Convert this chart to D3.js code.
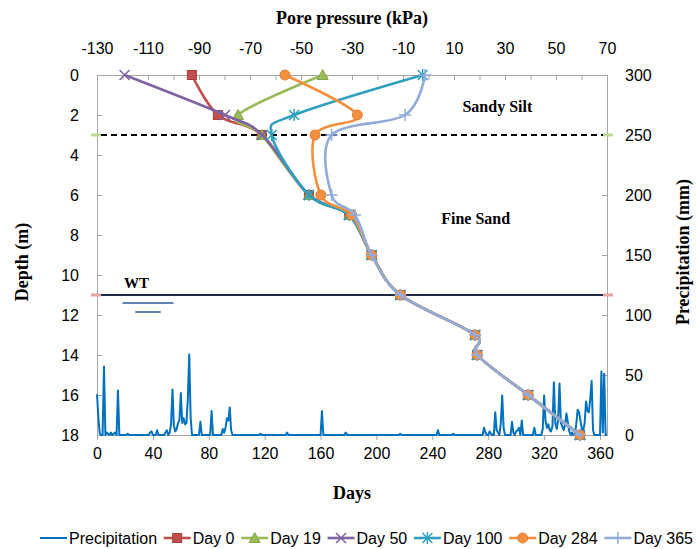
<!DOCTYPE html>
<html>
<head>
<meta charset="utf-8">
<script src="https://cdn.jsdelivr.net/npm/d3@7"></script>
<style>
  body { margin: 0; background: #fff; }
  svg { display: block; }
</style>
</head>
<body>
<svg id="chart" width="696" height="549"></svg>
<script>
// ---- Pore pressure profiles (kPa) at each measured depth (m) ----
const depths = [0, 2, 3, 6, 7, 9, 11, 13, 14, 16, 18];
const day0   = [-92.8, -82.6, -65.4, -46.9, -31.1, -22.3, -11, 18.3, 19.1, 39.1, 59.4];
const day19  = [-41.5, -74.7, -65.4, -46.9, -31.1, -22.3, -11, 18.3, 19.1, 39.1, 59.4];
const day50  = [-119.2, -79.8, -65.2, -46.9, -31.1, -22.3, -11, 18.3, 19.1, 39.1, 59.4];
const day100 = [-2.3, -52.7, -61.5, -46.9, -31.1, -22.3, -11, 18.3, 19.1, 39.1, 59.4];
const day284 = [-56.3, -27.9, -44.5, -42.2, -30.1, -22.3, -11, 18.3, 19.1, 39.1, 59.4];
const day365 = [-1.4, -9.2, -38.0, -38.0, -28.8, -22.3, -11, 18.3, 19.1, 39.1, 59.4];
const seriesNames = ["Day 0", "Day 19", "Day 50", "Day 100", "Day 284", "Day 365"];

// ---- Daily precipitation (mm): rain days; every other day had none ----
const rainDays = [0, 1, 2, 5, 7, 8, 10, 12, 13, 15, 22, 38, 39, 43, 49, 50,
  52, 53, 54, 55, 56, 57, 58, 59, 60, 61, 62, 63, 64, 65, 66, 67,
  74, 82, 90, 91, 92, 93, 94, 95, 96, 117, 136, 161, 178, 217, 244, 255,
  277, 278, 281, 282, 285, 286, 287, 289, 290, 291,
  297, 298, 300, 301, 302, 304, 313,
  319, 320, 321, 322, 323, 324, 325, 326, 327, 328, 329, 330, 331, 332, 333, 334, 335, 336, 337, 338, 340,
  343, 344, 345, 346, 347, 348, 349, 350, 351, 352, 353, 354, 355,
  361, 362, 363];
const rainMm = [34, 14, 1, 57, 2, 1, 2, 1, 2, 37, 1, 2, 3, 4, 2, 4,
  2, 9, 38, 8, 3, 5, 10, 12, 35, 10, 14, 9, 10, 30, 67, 15,
  11, 20, 5, 2, 6, 14, 12, 23, 4, 1, 2, 20, 2, 1, 4, 1,
  6, 2, 3, 1, 19, 4, 2, 10, 33, 6,
  11, 2, 3, 4, 6, 12, 6,
  5, 33, 12, 6, 9, 4, 3, 8, 44, 10, 5, 12, 43, 10, 7, 4, 9, 18, 10, 3, 2,
  9, 21, 19, 12, 5, 4, 10, 28, 20, 19, 30, 45, 4,
  53, 2, 51];
const lastDay = 365;

// ---- Axis ticks ----
const pressureTicks = [-130, -120, -110, -100, -90, -80, -70, -60, -50, -40, -30, -20, -10, 0, 10, 20, 30, 40, 50, 60, 70];
const pressureTickLabels = [-130, -110, -90, -70, -50, -30, -10, 10, 30, 50, 70];
const depthTickLabels = [0, 2, 4, 6, 8, 10, 12, 14, 16, 18];
const dayTickLabels = [0, 40, 80, 120, 160, 200, 240, 280, 320, 360];
const precipTickLabels = [0, 50, 100, 150, 200, 250, 300];

// ---- Soil layers ----
const layerBoundaryDepth = 3;
const waterTableDepth = 11;

const profiles = [day0, day19, day50, day100, day284, day365];
const colors = ["#c0504d", "#9bbb59", "#7f62a1", "#2fa0bd", "#f3903f", "#93abd9"];
const markerStrokes = ["#a33f3c", "#86a34a", "#7f62a1", "#2fa0bd", "#e07f30", "#93abd9"];
const markerKinds = ["square", "triangle", "x", "asterisk", "circle", "plus"];

const svg = d3.select("#chart");
const L = 97, R = 607, T = 75, B = 435;

const x = d3.scaleLinear().domain([-130, 70]).range([L, R]);
const y = d3.scaleLinear().domain([0, 18]).range([T, B]);
const xd = d3.scaleLinear().domain([0, 365]).range([L, R]);
const yp = d3.scaleLinear().domain([0, 300]).range([B, T]);

const axisColor = "#a6a6a6";
const tickFont = "'Liberation Sans', Arial, sans-serif";
const titleFont = "'Liberation Serif', 'Times New Roman', serif";
const plain = d => String(d);

function styleAxis(g) {
  g.selectAll("path.domain").attr("stroke", axisColor).attr("stroke-width", 1);
  g.selectAll(".tick line").attr("stroke", axisColor).attr("stroke-width", 1);
  g.selectAll(".tick text").attr("fill", "#000").style("font-family", tickFont).style("font-size", "16px");
}

// Top: pore pressure
svg.append("g").attr("transform", `translate(0,${T})`)
  .call(d3.axisTop(x).tickValues(pressureTicks).tickSizeInner(-5).tickSizeOuter(0).tickPadding(21)
    .tickFormat(d => pressureTickLabels.includes(d) ? String(d) : ""))
  .call(styleAxis);

// Left: depth
svg.append("g").attr("transform", `translate(${L},0)`)
  .call(d3.axisLeft(y).tickValues(depthTickLabels).tickSizeInner(-5).tickSizeOuter(0).tickPadding(18).tickFormat(plain))
  .call(styleAxis);

// Bottom: days
svg.append("g").attr("transform", `translate(0,${B})`)
  .call(d3.axisBottom(xd).tickValues(dayTickLabels).tickSizeInner(5).tickSizeOuter(0).tickPadding(8).tickFormat(plain))
  .call(styleAxis);

// Right: precipitation
svg.append("g").attr("transform", `translate(${R},0)`)
  .call(d3.axisRight(yp).tickValues(precipTickLabels).tickSizeInner(-5).tickSizeOuter(0).tickPadding(18).tickFormat(plain))
  .call(styleAxis);

// ---- Precipitation line ----
const rainByDay = new Map(rainDays.map((d, i) => [d, rainMm[i]]));
const daily = d3.range(0, lastDay + 1).map(d => ({ day: d, mm: rainByDay.get(d) || 0 }));
svg.append("path")
  .datum(daily)
  .attr("fill", "none")
  .attr("stroke", "#0070c0")
  .attr("stroke-width", 2)
  .attr("stroke-linejoin", "round")
  .attr("d", d3.line().x(d => xd(d.day)).y(d => yp(d.mm)));

// ---- Layer boundary (dashed) and water table ----
function capLine(depth, capColor) {
  svg.append("line").attr("x1", L - 6).attr("x2", L + 4)
    .attr("y1", y(depth)).attr("y2", y(depth))
    .attr("stroke", capColor).attr("stroke-width", 3);
  svg.append("line").attr("x1", R - 4).attr("x2", R + 6)
    .attr("y1", y(depth)).attr("y2", y(depth))
    .attr("stroke", capColor).attr("stroke-width", 3);
}
capLine(layerBoundaryDepth, "#c3d69b");
svg.append("line").attr("x1", L + 4).attr("x2", R - 4)
  .attr("y1", y(layerBoundaryDepth)).attr("y2", y(layerBoundaryDepth))
  .attr("stroke", "#000").attr("stroke-width", 2.2).attr("stroke-dasharray", "6,4");

capLine(waterTableDepth, "#e6a5a4");
svg.append("line").attr("x1", L + 4).attr("x2", R - 4)
  .attr("y1", y(waterTableDepth)).attr("y2", y(waterTableDepth))
  .attr("stroke", "#1c2a48").attr("stroke-width", 2);

// Water table symbol
svg.append("line").attr("x1", x(-120)).attr("x2", x(-100))
  .attr("y1", y(waterTableDepth) + 8).attr("y2", y(waterTableDepth) + 8)
  .attr("stroke", "#2f5b9a").attr("stroke-width", 1.5);
svg.append("line").attr("x1", x(-115)).attr("x2", x(-105))
  .attr("y1", y(waterTableDepth) + 17).attr("y2", y(waterTableDepth) + 17)
  .attr("stroke", "#2f5b9a").attr("stroke-width", 1.5);

// ---- Markers ----
function drawMarker(g, kind, cx, cy, fill, stroke) {
  const m = g.append("g").attr("transform", `translate(${cx},${cy})`);
  if (kind === "square") {
    m.append("rect").attr("x", -4.5).attr("y", -4.5).attr("width", 9).attr("height", 9)
      .attr("fill", fill).attr("stroke", stroke).attr("stroke-width", 1);
  } else if (kind === "triangle") {
    m.append("path").attr("d", "M0,-5.5L5.5,4.5L-5.5,4.5Z")
      .attr("fill", fill).attr("stroke", stroke).attr("stroke-width", 1);
  } else if (kind === "circle") {
    m.append("circle").attr("r", 5).attr("fill", fill).attr("stroke", stroke).attr("stroke-width", 1);
  } else if (kind === "x") {
    m.append("path").attr("d", "M-5,-5L5,5M-5,5L5,-5")
      .attr("stroke", stroke).attr("stroke-width", 1.5).attr("fill", "none");
  } else if (kind === "asterisk") {
    m.append("path").attr("d", "M-5,-5L5,5M-5,5L5,-5M0,-6L0,6")
      .attr("stroke", stroke).attr("stroke-width", 1.5).attr("fill", "none");
  } else if (kind === "plus") {
    m.append("path").attr("d", "M-6,0L6,0M0,-6L0,6")
      .attr("stroke", stroke).attr("stroke-width", 1.5).attr("fill", "none");
  }
}

// ---- Pore pressure profiles ----
const profileLine = d3.line()
  .x(d => x(d.p))
  .y(d => y(d.z))
  .curve(d3.curveCardinal.tension(0));

profiles.forEach((vals, i) => {
  const pts = depths.map((z, j) => ({ z, p: vals[j] }));
  const g = svg.append("g");
  g.append("path").datum(pts)
    .attr("fill", "none").attr("stroke", colors[i]).attr("stroke-width", 2.6)
    .attr("stroke-linejoin", "round").attr("d", profileLine);
  pts.forEach(d => drawMarker(g, markerKinds[i], x(d.p), y(d.z), colors[i], markerStrokes[i]));
});

// ---- Layer labels ----
const boldSerif = sel => sel.style("font-family", titleFont).style("font-weight", "bold").attr("fill", "#000");
svg.append("text").attr("x", x(27)).attr("y", y(1.55)).attr("dy", "0.35em")
  .attr("text-anchor", "middle").style("font-size", "16px").text("Sandy Silt").call(boldSerif);
svg.append("text").attr("x", x(18.5)).attr("y", y(7.15)).attr("dy", "0.35em")
  .attr("text-anchor", "middle").style("font-size", "16px").text("Fine Sand").call(boldSerif);
svg.append("text").attr("x", x(-114.5)).attr("y", y(10.4)).attr("dy", "0.35em")
  .attr("text-anchor", "middle").style("font-size", "15px").text("WT").call(boldSerif);

// ---- Axis titles ----
svg.append("text").attr("x", 352).attr("y", 18).attr("dy", "0.35em")
  .attr("text-anchor", "middle").style("font-size", "18px").text("Pore pressure (kPa)").call(boldSerif);
svg.append("text").attr("x", 352).attr("y", 493).attr("dy", "0.35em")
  .attr("text-anchor", "middle").style("font-size", "18px").text("Days").call(boldSerif);
svg.append("text").attr("transform", "translate(22,262) rotate(-90)").attr("dy", "0.35em")
  .attr("text-anchor", "middle").style("font-size", "18px").text("Depth (m)").call(boldSerif);
svg.append("text").attr("transform", "translate(683,252) rotate(-90)").attr("dy", "0.35em")
  .attr("text-anchor", "middle").style("font-size", "18px").text("Precipitation (mm)").call(boldSerif);

// ---- Legend ----
const legendY = 538;
const legendNames = ["Precipitation"].concat(seriesNames);
const legendColors = ["#0070c0"].concat(colors);
const legendStrokes = ["#0070c0"].concat(markerStrokes);
const legendKinds = [null].concat(markerKinds);
const legend = svg.append("g");
const sampleLen = 27;
const widths = legendNames.map(n => {
  const t = legend.append("text").style("font-family", tickFont).style("font-size", "16px").text(n);
  const w = t.node().getComputedTextLength();
  t.remove();
  return w;
});
const legendStart = 40, legendEnd = 693;
const used = d3.sum(widths) + legendNames.length * (sampleLen + 2);
const gap = (legendEnd - legendStart - used) / (legendNames.length - 1);
let lx = legendStart;
legendNames.forEach((n, i) => {
  legend.append("line").attr("x1", lx).attr("x2", lx + sampleLen)
    .attr("y1", legendY).attr("y2", legendY)
    .attr("stroke", legendColors[i]).attr("stroke-width", i === 0 ? 2 : 2.6);
  if (legendKinds[i]) drawMarker(legend, legendKinds[i], lx + sampleLen / 2, legendY, legendColors[i], legendStrokes[i]);
  legend.append("text").attr("x", lx + sampleLen + 2).attr("y", legendY).attr("dy", "0.35em")
    .style("font-family", tickFont).style("font-size", "16px").attr("fill", "#000").text(n);
  lx += sampleLen + 2 + widths[i] + gap;
});
</script>
</body>
</html>
